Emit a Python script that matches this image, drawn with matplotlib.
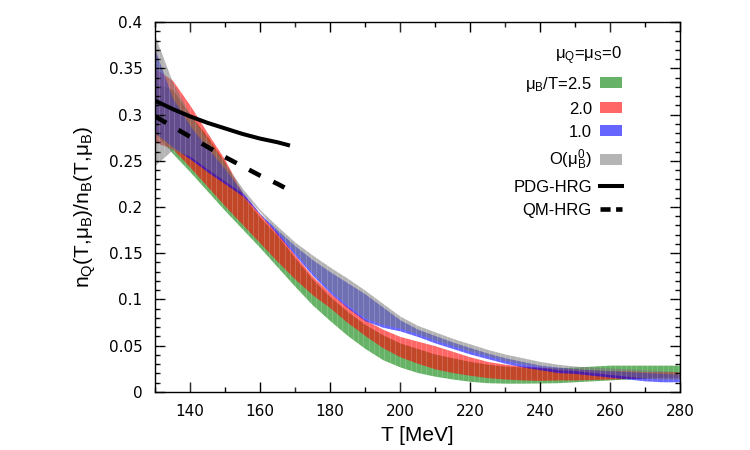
import matplotlib
matplotlib.use('Agg')
import numpy as np
import matplotlib.pyplot as plt
from matplotlib.patches import Patch
from matplotlib.lines import Line2D
from matplotlib.ticker import MultipleLocator, FuncFormatter

plt.rcParams['mathtext.default'] = 'regular'

# ── data ───────────────────────────────────────────────
T = [130, 135, 140, 145, 150, 155, 160, 165, 170, 175, 180, 185, 190, 195, 200, 205,
     210, 215, 220, 225, 230, 235, 240, 245, 250, 255, 260, 265, 270, 275, 280]

# mu_B/T = 2.5
green_lo = [0.280, 0.258, 0.238, 0.217, 0.196, 0.176, 0.156, 0.135, 0.114, 0.094, 0.077, 0.061,
            0.047, 0.035, 0.027, 0.021, 0.017, 0.014, 0.0115, 0.010, 0.0095, 0.0095, 0.0097,
            0.010, 0.011, 0.012, 0.013, 0.014, 0.015, 0.016, 0.016]
green_hi = [0.335, 0.327, 0.300, 0.276, 0.248, 0.212, 0.189, 0.169, 0.145, 0.122, 0.103, 0.087,
            0.073, 0.062, 0.053, 0.047, 0.041, 0.037, 0.033, 0.030, 0.028, 0.027, 0.026,
            0.026, 0.027, 0.028, 0.029, 0.029, 0.029, 0.029, 0.029]
# mu_B/T = 2.0
red_lo = [0.270, 0.263, 0.243, 0.222, 0.201, 0.181, 0.161, 0.141, 0.122, 0.105, 0.091, 0.075,
          0.061, 0.048, 0.038, 0.031, 0.025, 0.021, 0.018, 0.0155, 0.014, 0.013, 0.0125,
          0.013, 0.013, 0.0135, 0.014, 0.0145, 0.015, 0.015, 0.015]
red_hi = [0.350, 0.337, 0.310, 0.280, 0.251, 0.215, 0.192, 0.172, 0.148, 0.125, 0.107, 0.092,
          0.078, 0.068, 0.060, 0.055, 0.050, 0.044, 0.038, 0.033, 0.030, 0.028, 0.027,
          0.026, 0.025, 0.024, 0.023, 0.023, 0.022, 0.022, 0.022]
# mu_B/T = 1.0
blue_lo = [0.280, 0.265, 0.252, 0.238, 0.225, 0.212, 0.192, 0.170, 0.148, 0.126, 0.107, 0.091,
           0.077, 0.070, 0.066, 0.060, 0.053, 0.047, 0.041, 0.036, 0.031, 0.027, 0.024,
           0.021, 0.020, 0.018, 0.016, 0.014, 0.012, 0.011, 0.011]
blue_hi = [0.370, 0.318, 0.288, 0.264, 0.241, 0.216, 0.193, 0.175, 0.158, 0.143, 0.130, 0.118,
           0.106, 0.092, 0.078, 0.068, 0.061, 0.054, 0.048, 0.042, 0.037, 0.033, 0.029,
           0.027, 0.025, 0.024, 0.023, 0.022, 0.021, 0.020, 0.019]
# O(mu_B^0)
gray_lo = [0.245, 0.262, 0.255, 0.241, 0.228, 0.215, 0.195, 0.173, 0.151, 0.129, 0.110, 0.094,
           0.080, 0.073, 0.069, 0.063, 0.056, 0.050, 0.044, 0.039, 0.034, 0.030, 0.027,
           0.024, 0.023, 0.021, 0.019, 0.017, 0.015, 0.014, 0.014]
gray_hi = [0.385, 0.335, 0.300, 0.272, 0.247, 0.220, 0.197, 0.179, 0.162, 0.148, 0.135, 0.123,
           0.110, 0.096, 0.082, 0.072, 0.065, 0.058, 0.052, 0.046, 0.041, 0.037, 0.033,
           0.030, 0.028, 0.027, 0.026, 0.025, 0.024, 0.023, 0.022]

# HRG curves
T_pdg = [130, 135, 140, 145, 150, 155, 160, 165, 168]
pdg_hrg = [0.315, 0.306, 0.298, 0.291, 0.285, 0.279, 0.274, 0.270, 0.267]
T_qm = [130, 135, 140, 145, 150, 155, 160, 165, 167]
qm_hrg = [0.298, 0.287, 0.276, 0.265, 0.254, 0.244, 0.234, 0.225, 0.221]

labels = ['μ$_B$/T=2.5', '2.0', '1.0', 'O(μ$_B^0$)', 'PDG-HRG', 'QM-HRG']
legend_title = 'μ$_Q$=μ$_S$=0'

# ── plot ───────────────────────────────────────────────
fig = plt.figure(figsize=(7.5, 4.5), dpi=100)
ax = fig.add_axes([0.2067, 0.129, 0.70, 0.822])

ax.fill_between(T, green_lo, green_hi, color='#008000', alpha=0.6, lw=0)
ax.fill_between(T, red_lo, red_hi, color='#ff0000', alpha=0.6, lw=0)
ax.fill_between(T, blue_lo, blue_hi, color='#0000ff', alpha=0.6, lw=0)
ax.fill_between(T, gray_lo, gray_hi, color='#777777', alpha=0.55, lw=0)
# faint seams of the band strips (white, so invisible off the bands)
ax.vlines(np.arange(131, 280, 1.5), 0, 0.4, color='white', lw=0.6, alpha=0.2)

ax.plot(T_pdg, pdg_hrg, color='black', lw=2.9)
ax.plot(T_qm, qm_hrg, color='black', lw=3.3, dashes=(2.85, 3.05))

ax.set_xlim(130, 280)
ax.set_ylim(0, 0.4)
ax.xaxis.set_major_locator(MultipleLocator(20))
ax.xaxis.set_minor_locator(MultipleLocator(10))
ax.yaxis.set_major_locator(MultipleLocator(0.05))
ax.yaxis.set_minor_locator(MultipleLocator(0.01))
ax.yaxis.set_major_formatter(FuncFormatter(lambda v, p: '%g' % round(v, 3)))
ax.xaxis.set_major_formatter(FuncFormatter(lambda v, p: '' if v < 135 else '%d' % v))
ax.tick_params(which='both', direction='in', top=True, right=True, width=1, labelsize=11, pad=9)
ax.tick_params(which='major', length=7)
ax.tick_params(which='minor', length=3.5)
for s in ax.spines.values():
    s.set_linewidth(1)

ax.set_xlabel('T [MeV]', family='Liberation Sans', fontsize=15, labelpad=5)
ax.set_ylabel('n$_Q$(T,μ$_B$)/n$_B$(T,μ$_B$)', family='Liberation Sans', fontsize=15, labelpad=8)

handles = [Patch(facecolor='#008000', alpha=0.6, lw=0),
           Patch(facecolor='#ff0000', alpha=0.6, lw=0),
           Patch(facecolor='#0000ff', alpha=0.6, lw=0),
           Patch(facecolor='#777777', alpha=0.55, lw=0),
           Line2D([], [], color='black', lw=2.9),
           Line2D([], [], color='black', lw=3.3, dashes=(2.2, 1.2))]
leg = ax.legend(handles, labels, loc='upper right', bbox_to_anchor=(0.905, 0.963),
                frameon=False, markerfirst=False, title=legend_title, alignment='left',
                prop={'family': 'Liberation Sans', 'size': 12},
                title_fontproperties={'family': 'Liberation Sans', 'size': 12},
                handlelength=1.3, handleheight=0.65, labelspacing=0.48, handletextpad=0.5, borderpad=0)
for t in leg.get_texts():
    t.set_ha('right')
leg._legend_box.align = 'right'

fig.savefig('out.png', dpi=100)
